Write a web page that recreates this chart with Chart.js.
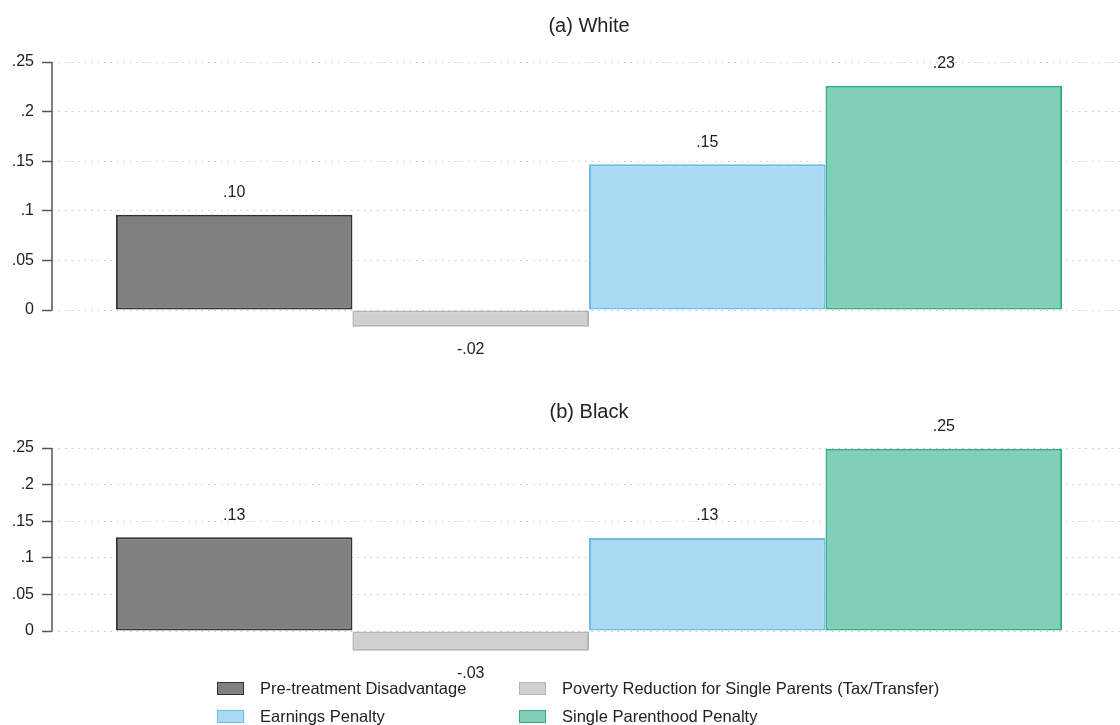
<!DOCTYPE html>
<html>
<head>
<meta charset="utf-8">
<script src="https://cdn.jsdelivr.net/npm/chart.js@4.4.1/dist/chart.umd.min.js"></script>
<style>
  html, body { margin: 0; padding: 0; background: #fff; overflow: hidden; }
  body { width: 1120px; height: 725px; position: relative; font-family: "Liberation Sans", Arial, sans-serif; }
  canvas { position: absolute; left: 0; }
  #chartWhite { top: 0; }
  #chartBlack { top: 380px; }
  #legend { position: absolute; left: 0; top: 678px; width: 1120px; height: 46px; }
  .item { position: absolute; height: 20px; display: flex; align-items: center; font-size: 16.5px; color: #222; white-space: nowrap; }
  .sw { width: 25px; height: 11px; border: 1.5px solid; margin-right: 16px; }
</style>
</head>
<body>
<canvas id="chartWhite" width="1126" height="372"></canvas>
<canvas id="chartBlack" width="1126" height="310"></canvas>
<div id="legend"></div>
<script>
// Series shown in each panel
const seriesLabels = [
  'Pre-treatment Disadvantage',
  'Poverty Reduction for Single Parents (Tax/Transfer)',
  'Earnings Penalty',
  'Single Parenthood Penalty'
];
const whiteValues = [0.096, -0.017, 0.147, 0.226];
const blackValues = [0.128, -0.027, 0.127, 0.249];
const panelTitles = ['(a) White', '(b) Black'];
const yTicks = [0, 0.05, 0.1, 0.15, 0.2, 0.25];

const fills   = ['#808080', '#d0d0d0', '#aad9f3', '#80cfb8'];
const borders = ['#333333', '#b4b4b4', '#6bbce8', '#35ab83'];
const FONT = '"Liberation Sans", Arial, sans-serif';

// ".25" style numbers without a leading zero
function fmt(v, digits) {
  if (v === 0) return '0';
  let s = v.toFixed(digits);
  return s.replace(/^(-?)0\./, '$1.');
}
function fmtTick(v) {
  if (Math.abs(v) < 1e-9) return '0';
  let s = String(parseFloat(v.toFixed(4)));
  return s.replace(/^(-?)0\./, '$1.');
}

// Panel title centred over the plot region
const panelTitle = {
  id: 'panelTitle',
  afterDraw(chart, args, opts) {
    const { ctx, chartArea } = chart;
    ctx.save();
    ctx.font = '20px ' + FONT;
    ctx.fillStyle = '#222';
    ctx.textAlign = 'center';
    ctx.textBaseline = 'middle';
    ctx.fillText(opts.text, (chartArea.left + chartArea.right) / 2, chartArea.top - 36);
    ctx.restore();
  }
};

// Left axis line spanning the labelled range only
const axisLine = {
  id: 'axisLine',
  afterDraw(chart) {
    const { ctx, chartArea } = chart;
    const y = chart.scales.y;
    ctx.save();
    ctx.strokeStyle = '#555';
    ctx.lineWidth = 1.5;
    ctx.beginPath();
    ctx.moveTo(chartArea.left, y.getPixelForValue(yTicks[0]));
    ctx.lineTo(chartArea.left, y.getPixelForValue(yTicks[yTicks.length - 1]));
    ctx.stroke();
    ctx.restore();
  }
};

// Value labels above positive bars and below negative ones
const valueLabels = {
  id: 'valueLabels',
  afterDatasetsDraw(chart) {
    const { ctx } = chart;
    ctx.save();
    ctx.font = '16px ' + FONT;
    ctx.fillStyle = '#222';
    ctx.textAlign = 'center';
    ctx.textBaseline = 'middle';
    chart.data.datasets.forEach((ds, i) => {
      const meta = chart.getDatasetMeta(i);
      meta.data.forEach((bar, j) => {
        const v = ds.data[j];
        const y = v >= 0 ? bar.y - 22 : bar.y + 23;
        ctx.fillText(fmt(v, 2), bar.x, y);
      });
    });
    ctx.restore();
  }
};

function makePanel(canvasId, values, title, padTop, padBottom) {
  return new Chart(document.getElementById(canvasId), {
    type: 'bar',
    data: {
      labels: [''],
      datasets: seriesLabels.map((lab, i) => ({
        label: lab,
        data: [values[i]],
        backgroundColor: fills[i],
        borderColor: borders[i],
        borderWidth: 2,
        borderSkipped: false,
        categoryPercentage: 0.881,
        barPercentage: 1.0
      }))
    },
    options: {
      responsive: false,
      animation: false,
      devicePixelRatio: 1,
      layout: { padding: { top: padTop, bottom: padBottom, left: 0, right: 0 } },
      plugins: {
        legend: { display: false },
        tooltip: { enabled: false },
        panelTitle: { text: title }
      },
      scales: {
        x: { display: false },
        y: {
          min: -0.03,
          max: 0.25,
          afterBuildTicks(scale) { scale.ticks = yTicks.map(v => ({ value: v })); },
          afterFit(scale) { scale.width = 52; },
          border: { display: false, dash: [1.5, 5] },
          grid: {
            color: '#c4c4c4',
            lineWidth: 1,
            tickColor: '#555',
            tickWidth: 1.5,
            tickLength: 10,
            drawTicks: true
          },
          ticks: {
            padding: 8,
            color: '#222',
            font: { family: FONT, size: 16 },
            callback: v => fmtTick(v)
          }
        }
      }
    },
    plugins: [panelTitle, axisLine, valueLabels]
  });
}

makePanel('chartWhite', whiteValues, panelTitles[0], 62, 32.24);
makePanel('chartBlack', blackValues, panelTitles[1], 68, 37.04);

// Two-column legend
const legend = document.getElementById('legend');
const colX = [217, 519];
const rowY = [0, 28];
seriesLabels.forEach((lab, i) => {
  const item = document.createElement('div');
  item.className = 'item';
  item.style.left = colX[i % 2] + 'px';
  item.style.top = rowY[Math.floor(i / 2)] + 'px';
  const sw = document.createElement('span');
  sw.className = 'sw';
  sw.style.background = fills[i];
  sw.style.borderColor = borders[i];
  const tx = document.createElement('span');
  tx.textContent = lab;
  item.appendChild(sw);
  item.appendChild(tx);
  legend.appendChild(item);
});
</script>
</body>
</html>
